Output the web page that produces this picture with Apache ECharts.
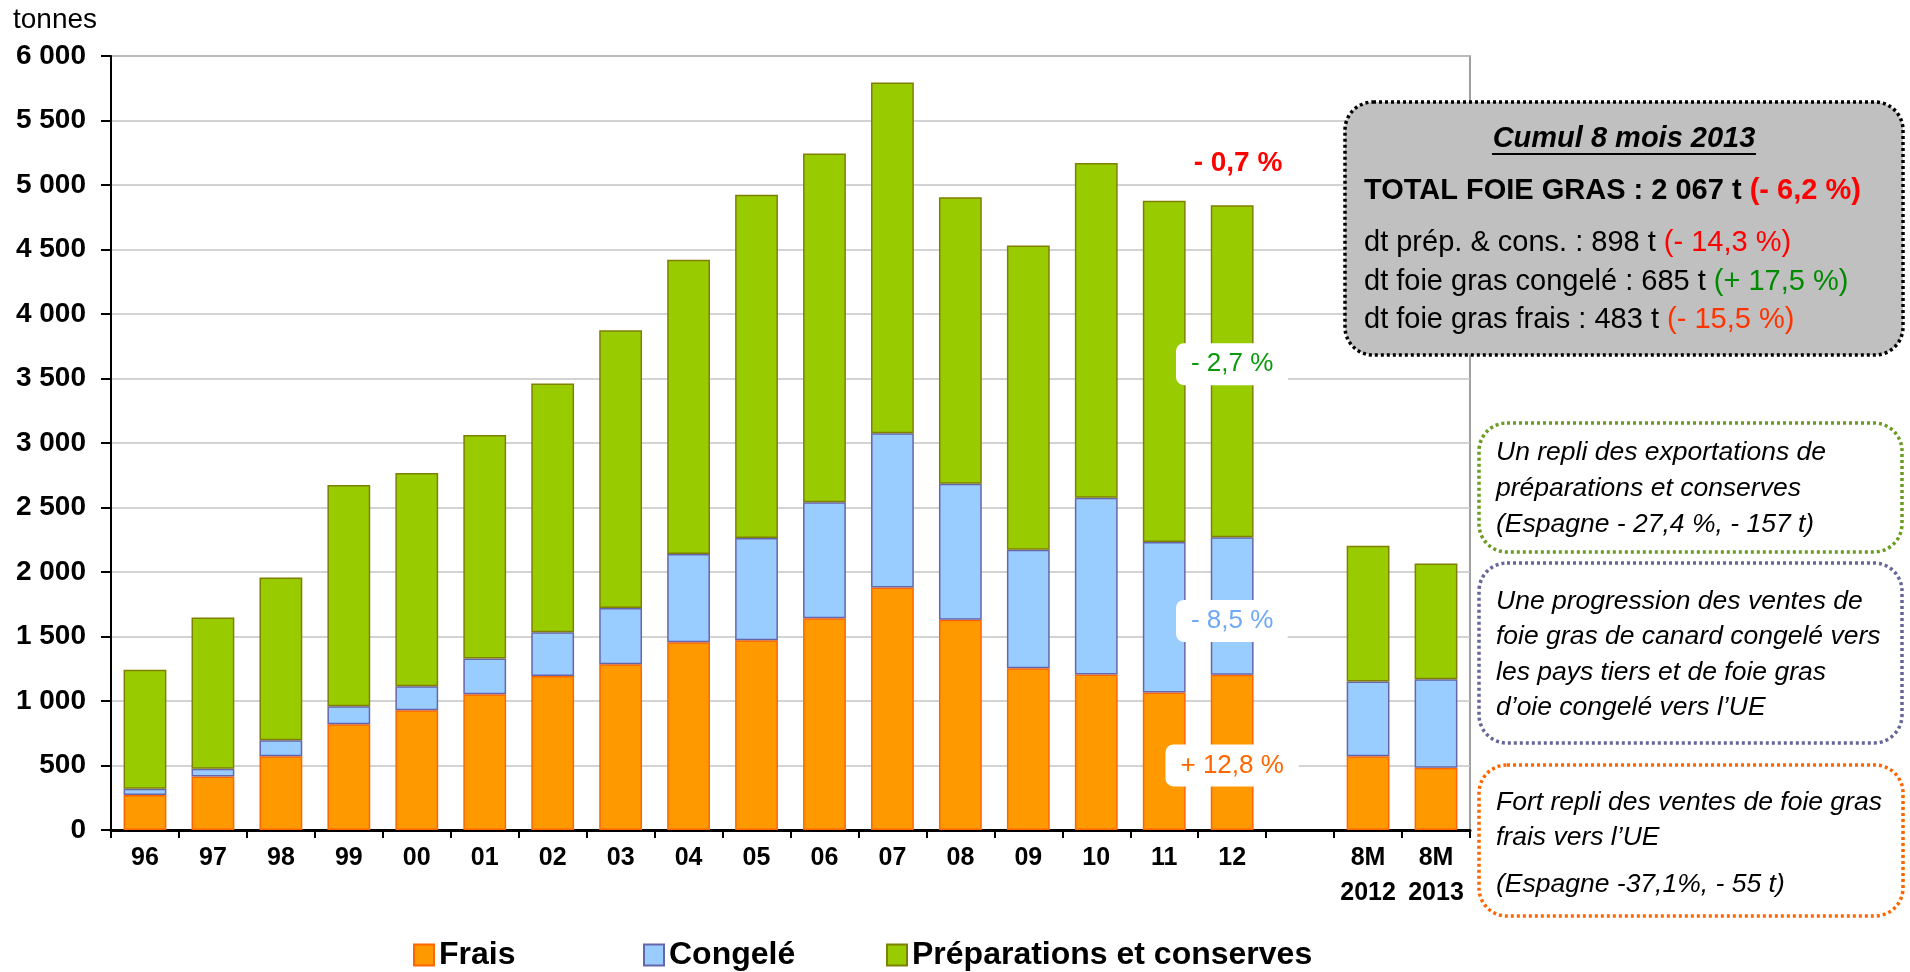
<!DOCTYPE html>
<html>
<head>
<meta charset="utf-8">
<title>Exportations de foie gras</title>
<script src="https://cdn.jsdelivr.net/npm/echarts@6/dist/echarts.min.js"></script>
<style>
    html, body { margin: 0; padding: 0; background: #fff; }
    #chart { width: 1910px; height: 972px; }
</style>
</head>
<body>
<div id="chart"></div>
<script>
// categories, with an empty slot before the 8-month totals
const categories = ['96', '97', '98', '99', '00', '01', '02', '03', '04', '05', '06', '07', '08', '09', '10', '11', '12', '', '8M\n2012', '8M\n2013'];
const frais = [272, 415, 571, 820, 928, 1053, 1193, 1284, 1455, 1470, 1642, 1880, 1629, 1253, 1206, 1066, 1203, null, 572, 483];
const congele = [47, 60, 124, 140, 187, 277, 340, 436, 685, 794, 899, 1196, 1055, 920, 1369, 1167, 1067, null, 580, 685];
const preparations = [923, 1172, 1263, 1714, 1652, 1732, 1929, 2155, 2281, 2661, 2704, 2719, 2221, 2358, 2595, 2644, 2573, null, 1052, 898];
const seriesNames = ['Frais', 'Congelé', 'Préparations et conserves'];

// evolution 2012 / 2011, shown on the bar '12'
const evolIndex = 16;
const evolLabels = ['+ 12,8 %', '- 8,5 %', '- 2,7 %'];
const evolColors = ['#FF6600', '#6FA8F5', '#0A990A'];
const evolOffsets = [13, 15, -7];

const FONT = '"Liberation Sans", Arial, sans-serif';

const fmt = v => String(v).replace(/\B(?=(\d{3})+(?!\d))/g, ' ');

const withLabel = (values, k) => values.map((v, i) => {
    if (i !== evolIndex) return v === null ? '-' : v;
    return {
        value: v,
        label: {
            show: true,
            position: 'inside',
            offset: [0, evolOffsets[k]],
            formatter: evolLabels[k],
            color: evolColors[k],
            fontSize: 26,
            fontFamily: FONT,
            lineHeight: 26,
            backgroundColor: '#fff',
            borderRadius: 8,
            padding: [8, 15]
        }
    };
});

const barStyle = (fill, border) => ({color: fill, borderColor: border, borderWidth: 1.5});

const legendAt = (name, left) => ({
    data: [name],
    left: left,
    top: 939,
    padding: 0,
    icon: 'rect',
    itemWidth: 20,
    itemHeight: 21,
    textStyle: {fontSize: 32, fontWeight: 'bold', color: '#000', fontFamily: FONT}
});

const boxText = (text, x, y, size, extra) => ({
    type: 'text',
    x: x,
    y: y,
    z: 10,
    style: Object.assign({
        text: text,
        font: 'italic ' + size + 'px ' + FONT,
        fill: '#000',
        verticalAlign: 'middle'
    }, extra || {})
});

const dotted = (x, y, w, h, fill, stroke) => ({
    type: 'rect',
    z: 5,
    shape: {x: x, y: y, width: w, height: h, r: 28},
    style: {fill: fill, stroke: stroke, lineWidth: 3.5, lineDash: [3, 3]}
});

const richLine = (label, value, color, y, bold) => ({
    type: 'text',
    x: 1364,
    y: y,
    z: 10,
    style: {
        text: '{a|' + label + '}{b|' + value + '}',
        verticalAlign: 'middle',
        rich: {
            a: {fill: '#000', fontSize: 29, fontWeight: bold ? 'bold' : 'normal', fontFamily: FONT},
            b: {fill: color, fontSize: 29, fontWeight: bold ? 'bold' : 'normal', fontFamily: FONT}
        }
    }
});

const chart = echarts.init(document.getElementById('chart'));

const option = {
    animation: false,
    textStyle: {fontFamily: FONT},
    grid: {
        left: 111, right: 440, top: 56, bottom: 142,
        show: true, borderColor: '#808080', borderWidth: 1.5
    },
    legend: [
        legendAt(seriesNames[0], 413),
        legendAt(seriesNames[1], 643),
        legendAt(seriesNames[2], 886)
    ],
    xAxis: {
        type: 'category',
        data: categories,
        axisLine: {lineStyle: {color: '#000', width: 3}},
        axisTick: {show: true, interval: 0, length: 8, lineStyle: {color: '#000', width: 2}},
        axisLabel: {
            interval: 0, margin: 11, color: '#000',
            fontSize: 25, fontWeight: 'bold', lineHeight: 35, fontFamily: FONT
        }
    },
    yAxis: {
        type: 'value',
        min: 0, max: 6000, interval: 500,
        axisLine: {show: true, lineStyle: {color: '#000', width: 2}},
        axisTick: {show: true, length: 10, lineStyle: {color: '#000', width: 2}},
        axisLabel: {
            margin: 25, color: '#000', fontSize: 28, fontWeight: 'bold',
            fontFamily: FONT, formatter: fmt
        },
        splitLine: {lineStyle: {color: '#C4C4C4', width: 1.5}}
    },
    series: [
        {
            name: seriesNames[0], type: 'bar', stack: 'total', barWidth: '63%',
            itemStyle: barStyle('#FF9900', '#FF6600'),
            data: withLabel(frais, 0)
        },
        {
            name: seriesNames[1], type: 'bar', stack: 'total', barWidth: '63%',
            itemStyle: barStyle('#99CCFF', '#6666AA'),
            data: withLabel(congele, 1)
        },
        {
            name: seriesNames[2], type: 'bar', stack: 'total', barWidth: '63%',
            itemStyle: barStyle('#99CC00', '#808000'),
            data: withLabel(preparations, 2)
        }
    ],
    graphic: [
        {
            type: 'text', x: 13, y: 20,
            style: {text: 'tonnes', font: '28px ' + FONT, fill: '#000', verticalAlign: 'middle'}
        },
        {
            type: 'text', x: 1238, y: 163,
            style: {
                text: '- 0,7 %', font: 'bold 28px ' + FONT, fill: '#FF0000',
                align: 'center', verticalAlign: 'middle'
            }
        },
        // summary box
        dotted(1345, 102, 558, 253, '#C0C0C0', '#000'),
        boxText('Cumul 8 mois 2013', 1624, 139, 29, {font: 'italic bold 29px ' + FONT, align: 'center'}),
        {
            type: 'line', z: 10,
            shape: {x1: 1492, y1: 154, x2: 1756, y2: 154},
            style: {stroke: '#000', lineWidth: 2}
        },
        richLine('TOTAL FOIE GRAS : 2 067 t ', '(- 6,2 %)', '#FF0000', 191, true),
        richLine('dt prép. & cons. : 898 t ', '(- 14,3 %)', '#FF0000', 243, false),
        richLine('dt foie gras congelé : 685 t ', '(+ 17,5 %)', '#008A00', 282, false),
        richLine('dt foie gras frais : 483 t ', '(- 15,5 %)', '#FF3300', 320, false),
        // comment boxes
        dotted(1479, 423, 423, 129, '#fff', '#6A9C1F'),
        boxText('Un repli des exportations de', 1496, 453, 26.5),
        boxText('préparations et conserves', 1496, 489, 26.5),
        boxText('(Espagne - 27,4 %, - 157 t)', 1496, 525, 26.5),
        dotted(1479, 563, 423, 180, '#fff', '#666699'),
        boxText('Une progression des ventes de', 1496, 602, 26.5),
        boxText('foie gras de canard congelé vers', 1496, 637, 26.5),
        boxText('les pays tiers et de foie gras', 1496, 673, 26.5),
        boxText('d’oie congelé vers l’UE', 1496, 708, 26.5),
        dotted(1479, 765, 424, 151, '#fff', '#FF6600'),
        boxText('Fort repli des ventes de foie gras', 1496, 803, 26.5),
        boxText('frais vers l’UE', 1496, 838, 26.5),
        boxText('(Espagne -37,1%, - 55 t)', 1496, 885, 26.5)
    ]
};

chart.setOption(option);
</script>
</body>
</html>
